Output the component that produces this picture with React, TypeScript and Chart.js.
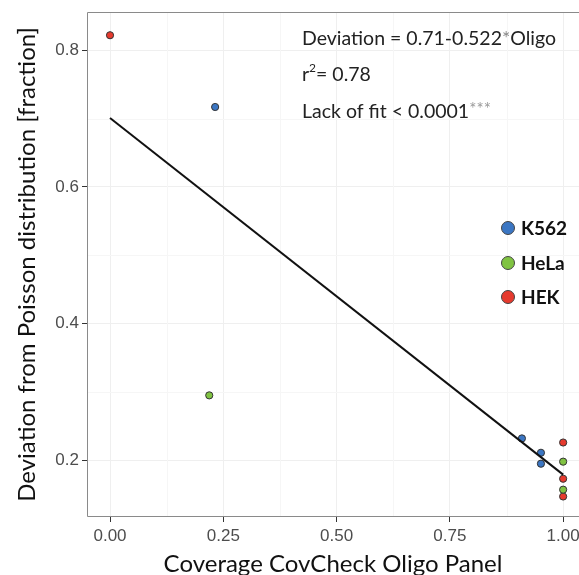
import React, { useEffect, useRef } from 'react';
import { Chart, registerables } from 'chart.js';
Chart.register(...registerables);

// ---- data ----
const seriesNames = ['K562', 'HeLa', 'HEK'];
const k562X = [0.232, 0.909, 0.951, 0.951];
const k562Y = [0.717, 0.232, 0.211, 0.195];
const helaX = [0.219, 1.0, 1.0];
const helaY = [0.295, 0.198, 0.157];
const hekX = [0.0, 1.0, 1.0, 1.0];
const hekY = [0.822, 0.226, 0.173, 0.147];
const fitX = [0, 1];
const fitY = [0.701, 0.179];
const xTicks = [0, 0.25, 0.5, 0.75, 1.0];
const xTickLabels = ['0.00', '0.25', '0.50', '0.75', '1.00'];
const yTicks = [0.2, 0.4, 0.6, 0.8];
const yTickLabels = ['0.2', '0.4', '0.6', '0.8'];
const xMinor = [0.125, 0.375, 0.625, 0.875];
const yMinor = [0.3, 0.5, 0.7];

const colors = ['#3b76c3', '#80c342', '#e63a2e'];
const titleFont = 'Lato, "Open Sans", sans-serif';
const tickFont = '"Liberation Sans", Arial, sans-serif';

const pts = (xs: number[], ys: number[]) => xs.map((x, i) => ({ x, y: ys[i] }));

const decorPlugin = {
  id: 'decor',
  beforeDatasetsDraw(chart: any) {
    const { ctx, chartArea: a, scales } = chart;
    ctx.save();
    ctx.strokeStyle = '#f6f6f6';
    ctx.lineWidth = 1;
    xMinor.forEach((v) => {
      const px = Math.round(scales.x.getPixelForValue(v)) + 0.5;
      ctx.beginPath(); ctx.moveTo(px, a.top); ctx.lineTo(px, a.bottom); ctx.stroke();
    });
    yMinor.forEach((v) => {
      const py = Math.round(scales.y.getPixelForValue(v)) + 0.5;
      ctx.beginPath(); ctx.moveTo(a.left, py); ctx.lineTo(a.right, py); ctx.stroke();
    });
    ctx.restore();
  },
  afterDraw(chart: any) {
    const { ctx, chartArea: a } = chart;
    ctx.save();
    // panel border (right side is cropped off in the reference)
    ctx.strokeStyle = '#8a8a8a';
    ctx.lineWidth = 1;
    const l = Math.round(a.left) + 0.5;
    const t = Math.round(a.top) + 0.5;
    const b = Math.round(a.bottom) - 0.5;
    ctx.beginPath();
    ctx.moveTo(a.right, t); ctx.lineTo(l, t); ctx.lineTo(l, b); ctx.lineTo(a.right, b);
    ctx.stroke();

    // annotation
    ctx.fillStyle = '#222';
    ctx.textBaseline = 'alphabetic';
    ctx.textAlign = 'left';
    const ax = 302;
    const fs = 19.5;
    ctx.font = `${fs}px ${titleFont}`;
    let x = ax;
    const l1a = 'Deviation = 0.71-0.522';
    ctx.fillText(l1a, x, 45); x += ctx.measureText(l1a).width;
    ctx.fillStyle = '#888';
    ctx.fillText('*', x, 45); x += ctx.measureText('*').width;
    ctx.fillStyle = '#222';
    ctx.fillText('Oligo', x, 45);
    x = ax;
    ctx.fillText('r', x, 81); x += ctx.measureText('r').width;
    ctx.font = `12px ${titleFont}`;
    ctx.fillText('2', x, 72); x += ctx.measureText('2').width;
    ctx.font = `${fs}px ${titleFont}`;
    ctx.fillText('= 0.78', x, 81);
    x = ax;
    const l3 = 'Lack of fit < 0.0001';
    ctx.fillText(l3, x, 118); x += ctx.measureText(l3).width;
    ctx.fillStyle = '#999';
    ctx.font = `17px ${titleFont}`;
    ctx.fillText('***', x, 115);

    // legend
    const ly = [228, 263, 297];
    seriesNames.forEach((n, i) => {
      ctx.beginPath();
      ctx.arc(508, ly[i], 6.5, 0, Math.PI * 2);
      ctx.fillStyle = colors[i];
      ctx.fill();
      ctx.strokeStyle = '#444';
      ctx.lineWidth = 1;
      ctx.stroke();
      ctx.fillStyle = '#111';
      ctx.font = `bold 19px ${titleFont}`;
      ctx.textBaseline = 'middle';
      ctx.fillText(n, 521, ly[i] + 1);
    });
    ctx.restore();
  },
};

export default function App() {
  const ref = useRef<HTMLCanvasElement>(null);
  useEffect(() => {
    const canvas = ref.current!;
    const scatterDs = (label: string, xs: number[], ys: number[], c: string) => ({
      type: 'scatter' as const,
      label,
      data: pts(xs, ys),
      backgroundColor: c,
      borderColor: '#333',
      borderWidth: 1,
      pointRadius: 3.6,
      order: 2,
    });
    const chart = new Chart(canvas, {
      type: 'scatter',
      data: {
        datasets: [
          {
            type: 'line',
            label: 'fit',
            data: pts(fitX, fitY),
            borderColor: '#111',
            borderWidth: 2,
            pointRadius: 0,
            fill: false,
            order: 1,
          } as any,
          scatterDs(seriesNames[0], k562X, k562Y, colors[0]),
          scatterDs(seriesNames[1], helaX, helaY, colors[1]),
          scatterDs(seriesNames[2], hekX, hekY, colors[2]),
        ],
      },
      options: {
        responsive: false,
        animation: false,
        devicePixelRatio: 1,
        layout: { autoPadding: false, padding: { top: 12, left: 0, right: 0, bottom: 0 } },
        plugins: { legend: { display: false }, tooltip: { enabled: false } },
        scales: {
          x: {
            type: 'linear',
            min: -0.0508,
            max: 1.035,
            afterBuildTicks: (s: any) => { s.ticks = xTicks.map((v) => ({ value: v })); },
            afterFit: (s: any) => { s.height = 58; s.paddingLeft = 0; s.paddingRight = 0; },
            ticks: {
              callback: (_v: any, i: number) => xTickLabels[i],
              color: '#4d4d4d',
              font: { family: tickFont, size: 17 },
              padding: 4,
              maxRotation: 0,
            },
            grid: { color: '#efefef', tickColor: '#333', tickLength: 5, lineWidth: 1 },
            border: { display: false },
            title: {
              display: true,
              text: 'Coverage CovCheck Oligo Panel',
              color: '#111',
              font: { family: titleFont, size: 24 },
              padding: { top: 0, bottom: -4 },
            },
          },
          y: {
            type: 'linear',
            min: 0.117,
            max: 0.856,
            afterBuildTicks: (s: any) => { s.ticks = yTicks.map((v) => ({ value: v })); },
            afterFit: (s: any) => { s.width = 87; s.paddingTop = 0; s.paddingBottom = 0; },
            ticks: {
              callback: (_v: any, i: number) => yTickLabels[i],
              color: '#4d4d4d',
              font: { family: tickFont, size: 17 },
              padding: 3,
            },
            grid: { color: '#efefef', tickColor: '#333', tickLength: 5, lineWidth: 1 },
            border: { display: false },
            title: {
              display: true,
              text: 'Deviation from Poisson distribution [fraction]',
              color: '#111',
              font: { family: titleFont, size: 24 },
              padding: { top: 13, bottom: 0 },
            },
          },
        },
      },
      plugins: [decorPlugin],
    });
    return () => chart.destroy();
  }, []);
  return (
    <div style={{ position: 'fixed', left: 0, top: 0, width: 579, height: 575, overflow: 'hidden', background: '#fff' }}>
      <canvas ref={ref} width={579} height={575} style={{ display: 'block' }} />
    </div>
  );
}
